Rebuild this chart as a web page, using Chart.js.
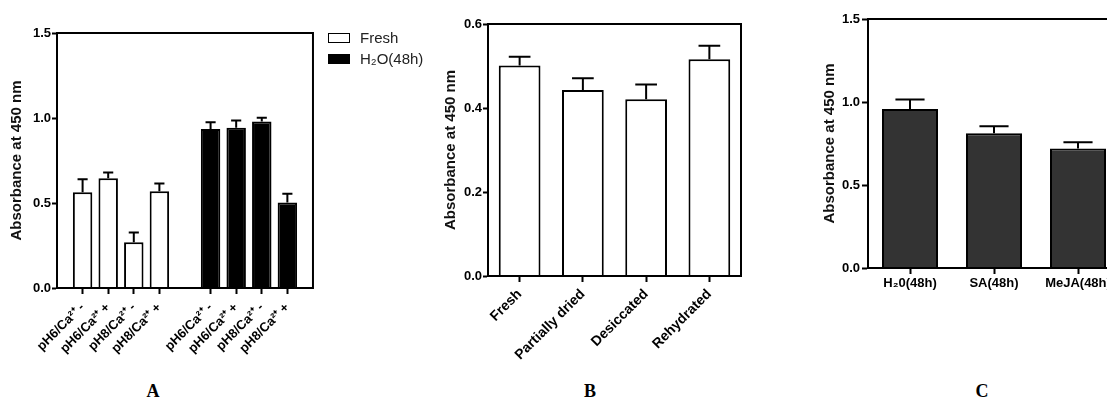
<!DOCTYPE html>
<html lang="en">
<head>
    <meta charset="UTF-8">
    <title>Absorbance at 450 nm</title>
    <style>
        body {
            margin: 0;
            background: #fff;
            overflow: hidden;
            font-family: "Liberation Sans", Arial, sans-serif;
        }
        .page {
            position: relative;
            width: 1107px;
            height: 399px;
            overflow: hidden;
        }
        canvas {
            position: absolute;
            top: 0;
        }
        #chartA { left: 0; }
        #chartB { left: 438px; }
        #chartC { left: 817px; }
        .legend {
            position: absolute;
            left: 328px;
            top: 27px;
            margin: 0;
            padding: 0;
            list-style: none;
        }
        .legend li {
            display: flex;
            align-items: center;
            height: 21px;
            font-size: 15px;
            color: #222;
        }
        .legend .box {
            width: 20px;
            height: 8px;
            border: 1.5px solid #000;
            margin-right: 10px;
        }
        .panel-letter {
            position: absolute;
            top: 382px;
            width: 40px;
            margin-left: -20px;
            text-align: center;
            font: bold 18px/18px "Liberation Serif", "Times New Roman", serif;
            color: #000;
        }
    </style>
</head>
<body>
<div class="page">
    <canvas id="chartA" width="330" height="370"></canvas>
    <canvas id="chartB" width="311" height="370"></canvas>
    <canvas id="chartC" width="310" height="370"></canvas>
    <ul class="legend" id="legendA"></ul>
    <div class="panel-letter" style="left:153px">A</div>
    <div class="panel-letter" style="left:590px">B</div>
    <div class="panel-letter" style="left:982px">C</div>
</div>

<script src="https://cdn.jsdelivr.net/npm/chart.js"></script>
<script>
    // panel A
    const aLabels = ['pH6/Ca²⁺ -', 'pH6/Ca²⁺ +', 'pH8/Ca²⁺ -', 'pH8/Ca²⁺ +'];
    const freshValues = [0.563, 0.645, 0.269, 0.569];
    const freshErrors = [0.076, 0.035, 0.057, 0.045];
    const h2oValues = [0.936, 0.942, 0.979, 0.503];
    const h2oErrors = [0.039, 0.044, 0.023, 0.051];

    // panel B
    const bLabels = ['Fresh', 'Partially dried', 'Desiccated', 'Rehydrated'];
    const bValues = [0.501, 0.443, 0.421, 0.516];
    const bErrors = [0.021, 0.028, 0.035, 0.032];

    // panel C
    const cLabels = ['H₂0(48h)', 'SA(48h)', 'MeJA(48h)'];
    const cValues = [0.958, 0.812, 0.720];
    const cErrors = [0.057, 0.042, 0.038];

    const FONT = '"Liberation Sans", Arial, sans-serif';

    // empty slots at both ends and between the two groups
    const none = aLabels.map(() => null);
    const aAxisLabels = ['', ...aLabels, '', ...aLabels, ''];
    const padFirst = arr => [null, ...arr, null, ...none, null];
    const padSecond = arr => [null, ...none, null, ...arr, null];

    const errorBars = {
        id: 'errorBars',
        afterDatasetsDraw(chart) {
            const ctx = chart.ctx;
            const yScale = chart.scales.y;
            chart.data.datasets.forEach((ds, i) => {
                if (!ds.errors) return;
                chart.getDatasetMeta(i).data.forEach((bar, j) => {
                    const v = ds.data[j];
                    const e = ds.errors[j];
                    if (v == null || e == null) return;
                    const top = yScale.getPixelForValue(v + e);
                    const cap = bar.width * 0.26;
                    ctx.save();
                    ctx.strokeStyle = '#000';
                    ctx.lineWidth = 2;
                    ctx.beginPath();
                    ctx.moveTo(bar.x, bar.y);
                    ctx.lineTo(bar.x, top);
                    ctx.moveTo(bar.x - cap, top);
                    ctx.lineTo(bar.x + cap, top);
                    ctx.stroke();
                    ctx.restore();
                });
            });
        }
    };

    const frame = {
        id: 'frame',
        afterDraw(chart) {
            const a = chart.chartArea;
            const ctx = chart.ctx;
            ctx.save();
            ctx.strokeStyle = '#000';
            ctx.lineWidth = 2;
            ctx.strokeRect(a.left, a.top, a.right - a.left, a.bottom - a.top);
            ctx.restore();
        }
    };

    function makeOptions(cfg) {
        return {
            responsive: false,
            animation: false,
            devicePixelRatio: 1,
            layout: { padding: cfg.padding },
            plugins: {
                legend: { display: false },
                tooltip: { enabled: false }
            },
            scales: {
                x: {
                    offset: cfg.offset,
                    grid: {
                        offset: false,
                        drawOnChartArea: false,
                        tickLength: cfg.xTick,
                        tickWidth: 2,
                        tickColor: ctx => (ctx.tick && ctx.tick.label !== '') ? '#000' : 'rgba(0,0,0,0)'
                    },
                    border: { color: '#000', width: 2 },
                    ticks: {
                        color: '#000',
                        font: { family: FONT, size: cfg.xFont, weight: 'bold' },
                        autoSkip: false,
                        maxRotation: cfg.rotation,
                        minRotation: cfg.rotation,
                        padding: cfg.xPad
                    },
                    afterFit: s => { s.height = cfg.xHeight; }
                },
                y: {
                    min: 0,
                    max: cfg.yMax,
                    ticks: {
                        stepSize: cfg.step,
                        color: '#000',
                        padding: cfg.yPad,
                        font: { family: FONT, size: 13, weight: 'bold' },
                        callback: v => v.toFixed(1)
                    },
                    title: {
                        display: true,
                        text: 'Absorbance at 450 nm',
                        color: '#111',
                        font: { family: FONT, size: 15, weight: 'bold' },
                        padding: { top: 4, bottom: 4 }
                    },
                    grid: {
                        drawOnChartArea: false,
                        tickLength: cfg.yTick,
                        tickWidth: 2,
                        tickColor: '#000'
                    },
                    border: { color: '#000', width: 2 },
                    afterFit: s => { s.width = cfg.yWidth; }
                }
            }
        };
    }

    const chartA = new Chart(document.getElementById('chartA'), {
        type: 'bar',
        data: {
            labels: aAxisLabels,
            datasets: [{
                label: 'Fresh',
                data: padFirst(freshValues),
                errors: padFirst(freshErrors),
                backgroundColor: '#fff',
                borderColor: '#000',
                borderWidth: 2,
                grouped: false,
                categoryPercentage: 1,
                barPercentage: 0.76
            }, {
                label: 'H₂O(48h)',
                data: padSecond(h2oValues),
                errors: padSecond(h2oErrors),
                backgroundColor: '#000',
                borderColor: '#000',
                borderWidth: 2,
                grouped: false,
                categoryPercentage: 1,
                barPercentage: 0.76
            }]
        },
        options: makeOptions({
            padding: { left: 4, top: 33, right: 16, bottom: 0 },
            offset: false, rotation: 45, xFont: 13, xTick: 6, xPad: 6, xHeight: 82,
            yMax: 1.5, step: 0.5, yTick: 5, yPad: 1, yWidth: 53
        }),
        plugins: [errorBars, frame]
    });

    new Chart(document.getElementById('chartB'), {
        type: 'bar',
        data: {
            labels: bLabels,
            datasets: [{
                data: bValues,
                errors: bErrors,
                backgroundColor: '#fff',
                borderColor: '#000',
                borderWidth: 2,
                categoryPercentage: 1,
                barPercentage: 0.66
            }]
        },
        options: makeOptions({
            padding: { left: 0, top: 24, right: 8, bottom: 0 },
            offset: true, rotation: 45, xFont: 14, xTick: 6, xPad: 4, xHeight: 94,
            yMax: 0.6, step: 0.2, yTick: 5, yPad: 1, yWidth: 50
        }),
        plugins: [errorBars, frame]
    });

    new Chart(document.getElementById('chartC'), {
        type: 'bar',
        data: {
            labels: cLabels,
            datasets: [{
                data: cValues,
                errors: cErrors,
                backgroundColor: '#333',
                borderColor: '#000',
                borderWidth: 2,
                categoryPercentage: 1,
                barPercentage: 0.667
            }]
        },
        options: makeOptions({
            padding: { left: 0, top: 19, right: 7, bottom: 0 },
            offset: true, rotation: 0, xFont: 13, xTick: 6, xPad: 2, xHeight: 102,
            yMax: 1.5, step: 0.5, yTick: 6, yPad: 2, yWidth: 51
        }),
        plugins: [errorBars, frame]
    });

    // html legend for panel A, built from its datasets
    const legendEl = document.getElementById('legendA');
    chartA.data.datasets.forEach(ds => {
        const li = document.createElement('li');
        const box = document.createElement('span');
        box.className = 'box';
        box.style.background = ds.backgroundColor;
        li.append(box, document.createTextNode(ds.label));
        legendEl.append(li);
    });
</script>
</body>
</html>
